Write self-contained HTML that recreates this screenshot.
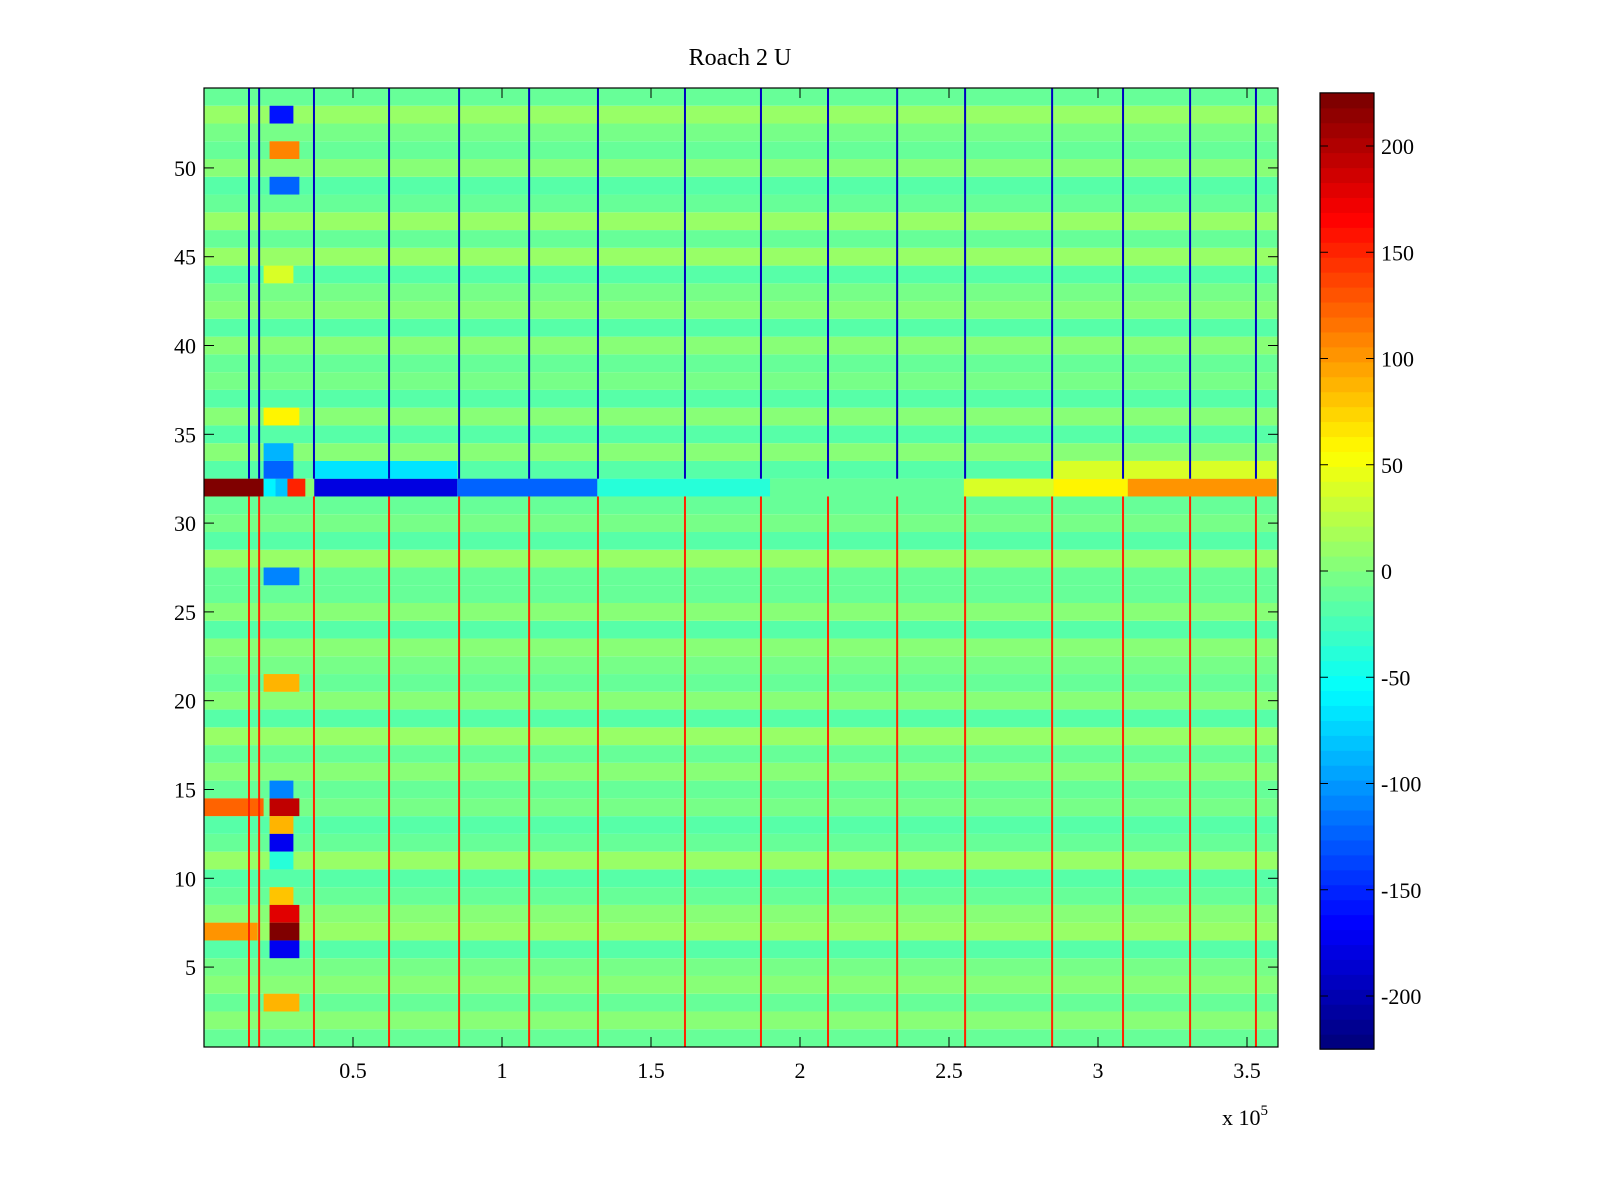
<!DOCTYPE html>
<html><head><meta charset="utf-8"><style>
html,body{margin:0;padding:0;background:#fff;width:1600px;height:1200px;overflow:hidden}
svg{display:block}
text{font-family:"Liberation Serif",serif;fill:#000}
</style></head><body>
<svg id="chart" width="1600" height="1200" viewBox="0 0 1600 1200">
<text x="740" y="65" font-size="24" text-anchor="middle">Roach 2 U</text>
<g id="cells"></g>
<rect x="204" y="88" width="1074" height="959" fill="none" stroke="#000" stroke-width="1.2"/>
<g id="axes"></g>
<g id="cbar"></g>
<text x="1222" y="1125" font-size="22">x 10<tspan dy="-10" font-size="15">5</tspan></text>
</svg>
<script>
// data
const rowBase=[ -8,5,-10,0,-5,-20,10,5,-8,-15,10,-10,-20,-5,-8,5,-12,12,-15,0,
 -10,-5,5,-18,0,-8,-12,8,-18,-5,-12,0,-15,0,-18,5,-20,-5,-10,0,
 -15,5,-5,-18,8,-8,12,-10,-15,5,-8,-5,10,-10];
const stripeX=[0.151,0.185,0.369,0.621,0.856,1.091,1.322,1.614,1.869,2.094,2.326,2.554,2.846,3.084,3.309,3.530];
const stripeUpper=-190;
const stripeLower=150;
// blocks: [row, x0, x1, value] (x in 1e5 units)
const blocks=[
 [32,0,0.20,220],[32,0.20,0.24,-60],[32,0.24,0.32,-80],[32,0.28,0.34,150],[32,0.37,0.85,-180],[32,0.85,1.32,-120],
 [32,1.32,1.90,-40],[32,1.90,2.55,-10],[32,2.55,2.85,40],[32,2.85,3.10,60],[32,3.10,3.60,100],
 [33,0.20,0.30,-120],[33,0.37,0.85,-70],[33,2.85,3.60,40],[34,0.20,0.30,-90],
 [14,0,0.20,120],[14,0.22,0.32,190],[13,0.22,0.30,90],[12,0.22,0.30,-170],[11,0.22,0.30,-40],
 [9,0.22,0.30,80],[8,0.22,0.32,180],[7,0,0.18,100],[7,0.22,0.32,220],[6,0.22,0.32,-170],
 [15,0.22,0.30,-110],[3,0.20,0.32,90],[21,0.20,0.32,90],[27,0.20,0.32,-110],
 [53,0.22,0.30,-160],[51,0.22,0.32,110],[49,0.22,0.32,-120],[44,0.20,0.30,40],[36,0.20,0.32,60]
];
const yTicks=[5,10,15,20,25,30,35,40,45,50];
const xTicks=[0.5,1,1.5,2,2.5,3,3.5];
const xTickLabels=["0.5","1","1.5","2","2.5","3","3.5"];
const cTicks=[-200,-150,-100,-50,0,50,100,150,200];

const X0=204,X1=1278,Y0=88,Y1=1047,XMAX=3.604,CMIN=-225,CMAX=225;
const sx=v=>X0+v/XMAX*(X1-X0);
const sy=r=>Y1-(r-0.5)/54*(Y1-Y0);
function jet(v){let t=(v-CMIN)/(CMAX-CMIN);t=Math.floor(Math.max(0,Math.min(0.9999,t))*64)/63;
 const f=x=>Math.round(255*Math.max(0,Math.min(1,1.5-Math.abs(4*t-x))));
 return `rgb(${f(3)},${f(2)},${f(1)})`;}
const NS="http://www.w3.org/2000/svg";
function mk(tag,attrs,parent){const e=document.createElementNS(NS,tag);for(const k in attrs)e.setAttribute(k,attrs[k]);parent.appendChild(e);return e;}
const cells=document.getElementById('cells');
rowBase.forEach((v,i)=>{const r=i+1;
 const e=mk('rect',{x:X0,y:sy(r+0.5),width:X1-X0,height:sy(r-0.5)-sy(r+0.5),fill:jet(v)},cells);
 
 });
blocks.forEach(b=>{
 const e=mk('rect',{x:sx(b[1]),y:sy(b[0]+0.5),width:sx(b[2])-sx(b[1]),height:sy(b[0]-0.5)-sy(b[0]+0.5),fill:jet(b[3])},cells);
 
 });
stripeX.forEach((x,i)=>{
 const a=mk('rect',{x:sx(x)-1,y:Y0,width:2,height:sy(32.5)-Y0,fill:jet(stripeUpper)},cells);
 
 
 const b=mk('rect',{x:sx(x)-1,y:sy(31.5),width:2,height:Y1-sy(31.5),fill:jet(stripeLower)},cells);
 
 });
const axes=document.getElementById('axes');
yTicks.forEach(t=>{const y=sy(t);
 mk('line',{x1:X0,x2:X0+10,y1:y,y2:y,stroke:'#000'},axes);
 mk('line',{x1:X1,x2:X1-10,y1:y,y2:y,stroke:'#000'},axes);
 const l=mk('text',{x:196,y:y+8,'font-size':22,'text-anchor':'end'},axes);l.textContent=t;
 
 });
xTicks.forEach((t,i)=>{const x=sx(t);
 mk('line',{x1:x,x2:x,y1:Y1,y2:Y1-10,stroke:'#000'},axes);
 mk('line',{x1:x,x2:x,y1:Y0,y2:Y0+10,stroke:'#000'},axes);
 const l=mk('text',{x:x,y:1078,'font-size':22,'text-anchor':'middle'},axes);l.textContent=xTickLabels[i];
 
 });
const cb=document.getElementById('cbar');const CX0=1320,CX1=1374;
const cy=v=>571-v*2.125;
for(let k=0;k<64;k++){const v0=CMIN+k*(CMAX-CMIN)/64,v1=v0+(CMAX-CMIN)/64;
 mk('rect',{x:CX0,y:cy(v1),width:CX1-CX0,height:cy(v0)-cy(v1)+0.5,fill:jet(v0+1)},cb);}
mk('rect',{x:CX0,y:cy(CMAX),width:CX1-CX0,height:cy(CMIN)-cy(CMAX),fill:'none',stroke:'#000','stroke-width':1.2},cb);
cTicks.forEach(t=>{const y=cy(t);
 mk('line',{x1:CX0,x2:CX0+8,y1:y,y2:y,stroke:'#000'},cb);
 mk('line',{x1:CX1,x2:CX1-8,y1:y,y2:y,stroke:'#000'},cb);
 const l=mk('text',{x:1381,y:y+8,'font-size':22},cb);l.textContent=t;
 
 });
</script>
</body></html>
